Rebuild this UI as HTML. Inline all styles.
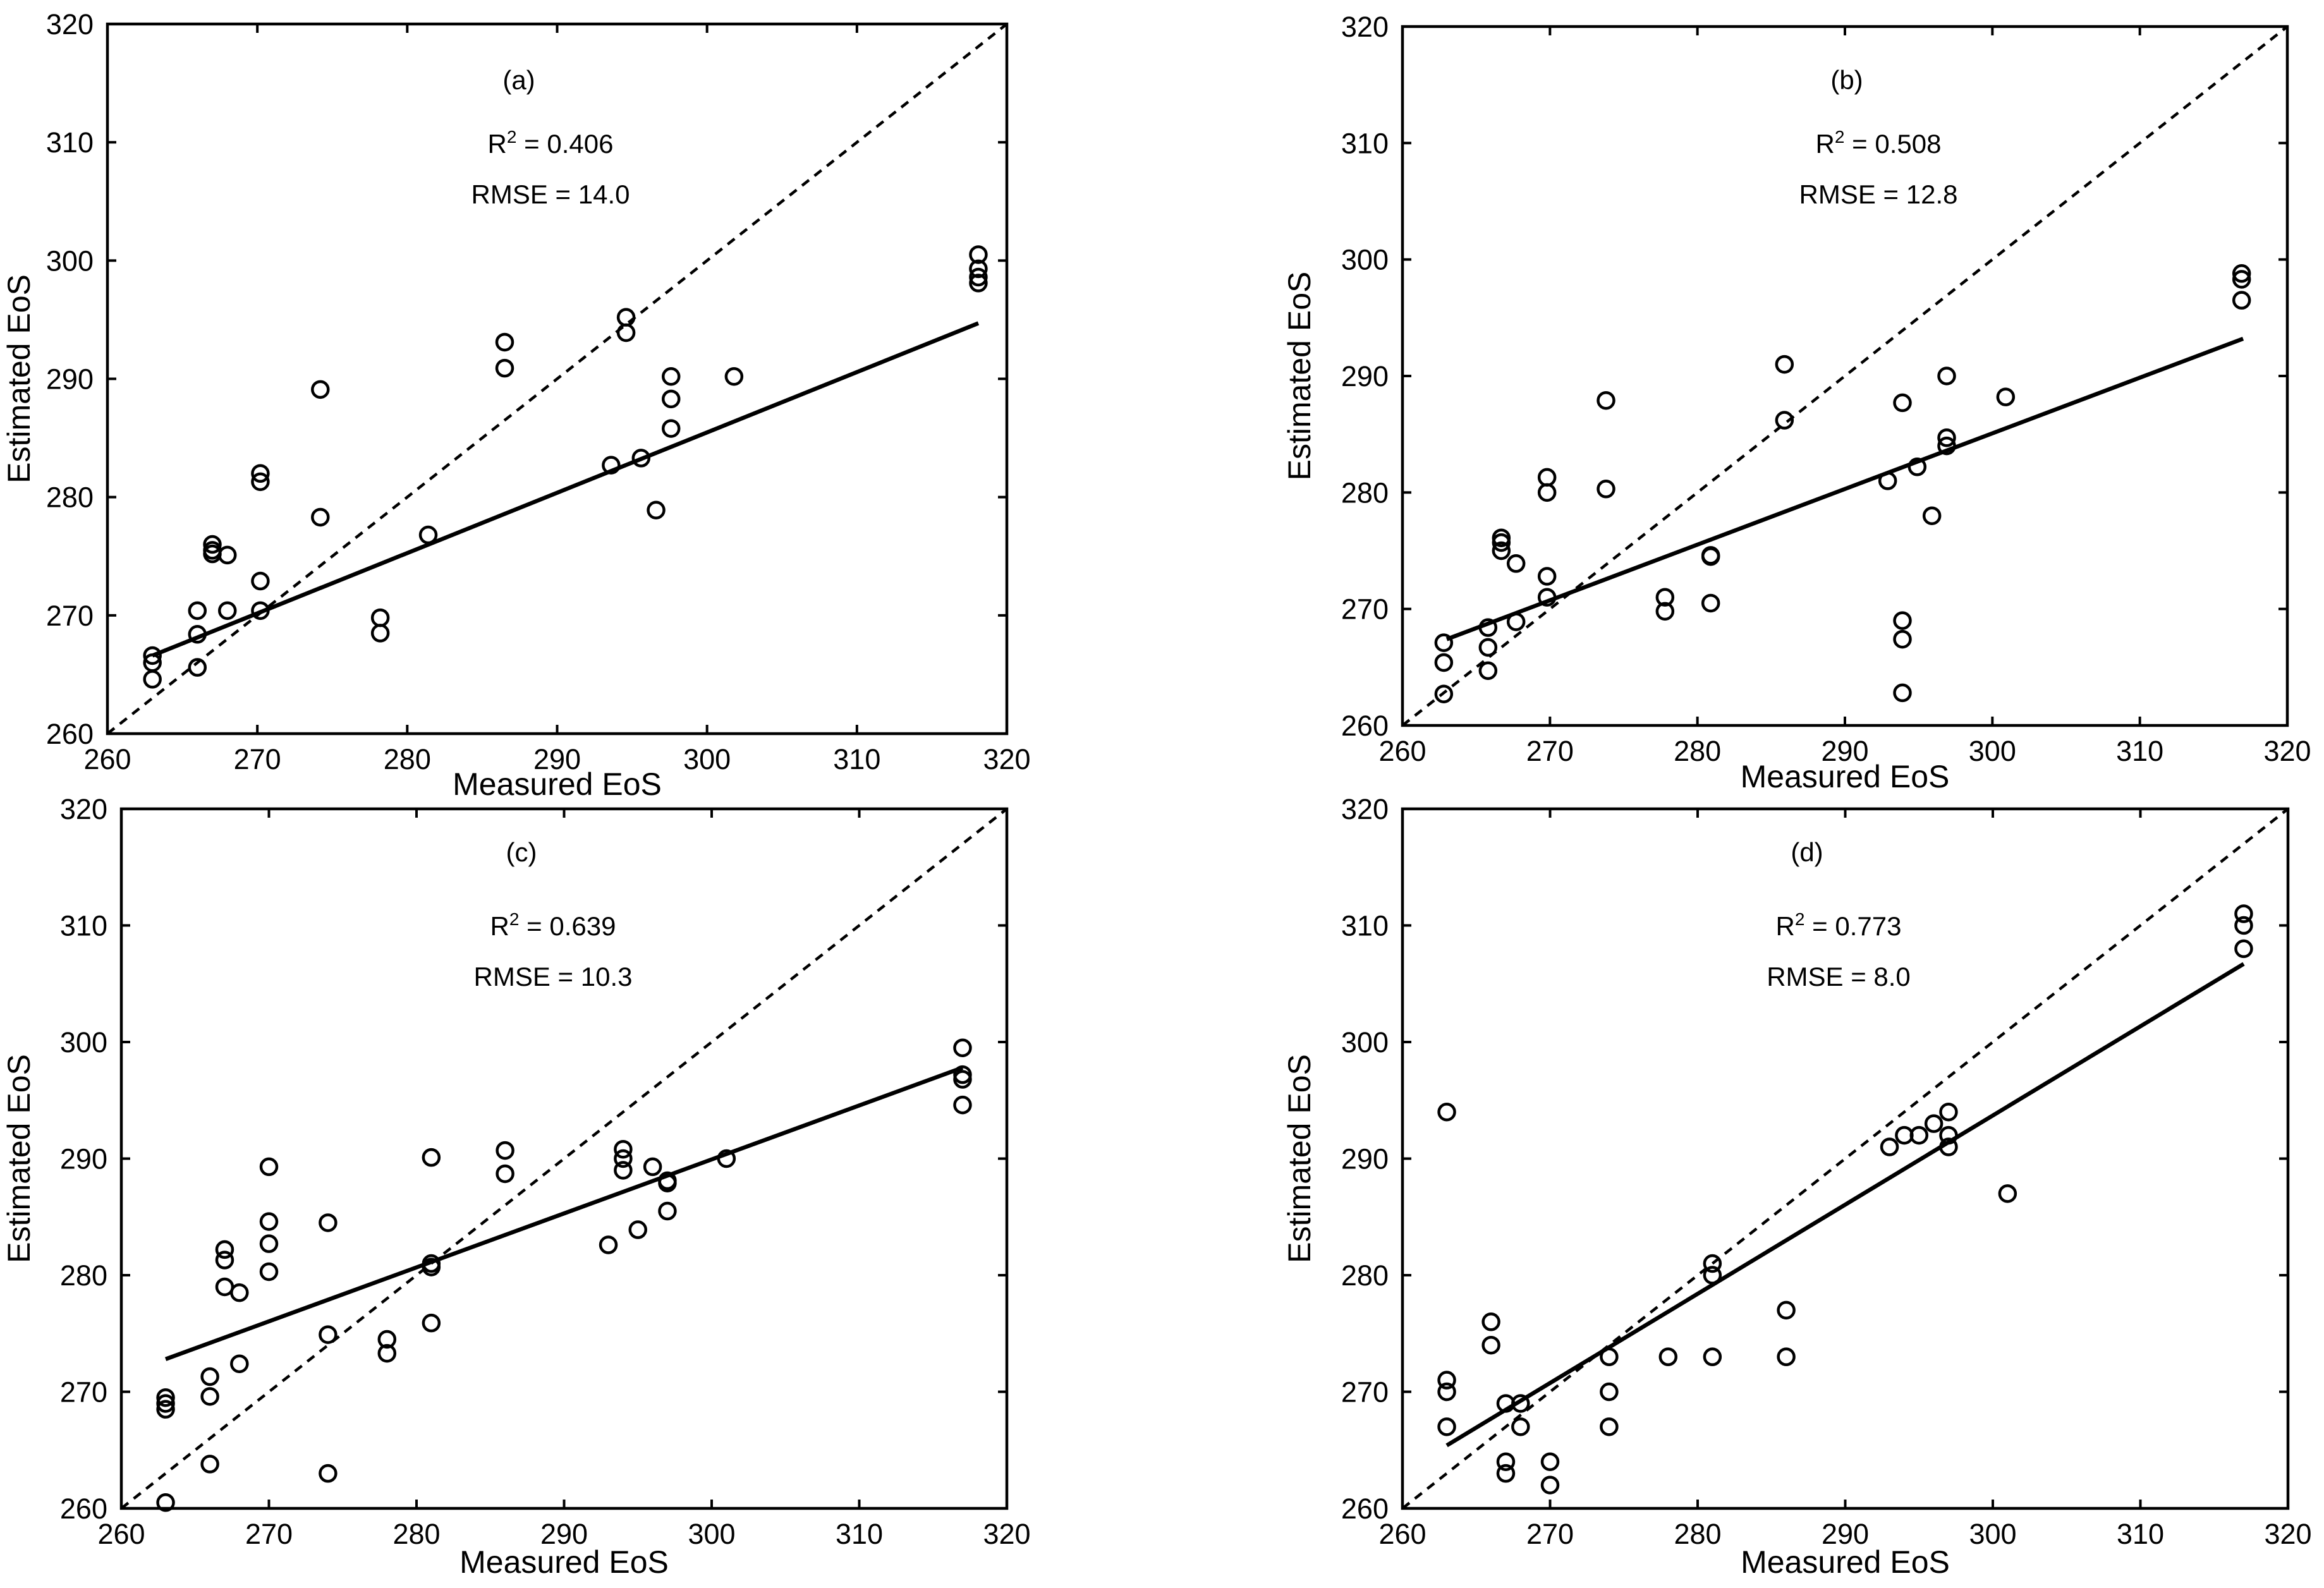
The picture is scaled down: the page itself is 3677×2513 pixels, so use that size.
<!DOCTYPE html>
<html><head><meta charset="utf-8">
<style>
html,body{margin:0;padding:0;background:#fff;}
svg{display:block;font-family:"Liberation Sans",Arial,sans-serif;}
</style></head>
<body>
<svg id="fig" width="3677" height="2513" viewBox="0 0 3677 2513" xmlns="http://www.w3.org/2000/svg"></svg>
<script>
const ticks = [260, 270, 280, 290, 300, 310, 320];
const tickLabels = ["260", "270", "280", "290", "300", "310", "320"];
const panelLabels = ["(a)", "(b)", "(c)", "(d)"];
const r2Values = ["0.406", "0.508", "0.639", "0.773"];
const rmseValues = ["14.0", "12.8", "10.3", "8.0"];

const aX = [263,263,263,266,266,266,267,267,267,268,268,270.2,270.2,270.2,270.2,274.2,274.2,278.2,278.2,281.4,286.5,286.5,293.6,294.6,294.6,295.6,296.6,297.6,297.6,297.6,301.8,318.1,318.1,318.1,318.1];
const aY = [266.6,266,264.6,270.4,268.4,265.6,276,275.5,275.2,275.1,270.4,282,281.3,272.9,270.4,289.1,278.3,269.8,268.5,276.8,293.1,290.9,282.7,295.2,293.9,283.3,278.9,290.2,288.3,285.8,290.2,300.5,299.3,298.6,298.1];
const aFitX = [263, 318.1];
const aFitY = [266.6, 294.7];

const bX = [262.8,262.8,262.8,265.8,265.8,265.8,266.7,266.7,266.7,267.7,267.7,269.8,269.8,269.8,269.8,273.8,273.8,277.8,277.8,280.9,280.9,280.9,285.9,285.9,292.9,293.9,293.9,293.9,293.9,294.9,295.9,296.9,296.9,296.9,300.9,316.9,316.9,316.9];
const bY = [267.1,265.4,262.7,268.4,266.7,264.7,276.1,275.7,275,273.9,268.9,281.3,280,272.8,271,287.9,280.3,271,269.8,274.6,274.5,270.5,291,286.2,281,287.7,269,267.4,262.8,282.2,278,290,284.7,284,288.2,298.8,298.3,296.5];
const bFitX = [263, 317];
const bFitY = [267.4, 293.2];

const cX = [263,263,263,263,266,266,266,267,267,267,268,268,270,270,270,270,274,274,274,278,278,281,281,281,281,286,286,293,294,294,294,295,296,297,297,297,301,317,317,317,317];
const cY = [269.5,269,268.5,260.5,271.3,269.6,263.8,282.2,281.3,279,278.5,272.4,289.3,284.6,282.7,280.3,284.5,274.9,263,274.5,273.3,290.1,281,280.7,275.9,290.7,288.7,282.6,290.8,290,289,283.9,289.3,288.1,287.9,285.5,290,299.5,297.2,296.8,294.6];
const cFitX = [263, 317];
const cFitY = [272.8, 297.8];

const dX = [263,263,263,263,266,266,267,267,267,268,268,270,270,274,274,274,278,281,281,281,286,286,293,294,295,296,297,297,297,301,317,317,317];
const dY = [294,271,270,267,276,274,269,264,263,269,267,264,262,273,270,267,273,281,280,273,277,273,291,292,292,293,294,292,291,287,311,310,308];
const dFitX = [263, 317];
const dFitY = [265.4, 306.7];

const NS = "http://www.w3.org/2000/svg";
const svg = document.getElementById("fig");
function mk(tag, attrs, parent) {
  const e = document.createElementNS(NS, tag);
  for (const k in attrs) e.setAttribute(k, attrs[k]);
  (parent || svg).appendChild(e);
  return e;
}

const panels = [
  {id:"a", L:170, R:1593, T:38, B:1161, xs:aX, ys:aY, fx:aFitX, fy:aFitY, ylx:47, xly:1258, tx:821, ty:[141,242,322]},
  {id:"b", L:2219, R:3619, T:42, B:1148, xs:bX, ys:bY, fx:bFitX, fy:bFitY, ylx:2073, xly:1246, tx:2922, ty:[141,242,322]},
  {id:"c", L:192, R:1593, T:1280, B:2387, xs:cX, ys:cY, fx:cFitX, fy:cFitY, ylx:47, xly:2489, tx:825, ty:[1363,1480,1560]},
  {id:"d", L:2219, R:3620, T:1280, B:2387, xs:dX, ys:dY, fx:dFitX, fy:dFitY, ylx:2073, xly:2489, tx:2859, ty:[1363,1480,1560]}
];

panels.forEach((p, i) => {
  const g = mk("g", {});
  
  
  const sx = v => p.L + (v - 260) / 60 * (p.R - p.L);
  const sy = v => p.B - (v - 260) / 60 * (p.B - p.T);

  const dl = mk("line", {x1:sx(260), y1:sy(260), x2:sx(320), y2:sy(320), stroke:"#000", "stroke-width":4.5, "stroke-dasharray":"14 11"}, g);
  
  

  const box = mk("rect", {x:p.L, y:p.T, width:p.R-p.L, height:p.B-p.T, fill:"none", stroke:"#000", "stroke-width":4.5}, g);
  
  

  ticks.forEach((t, k) => {
    const x = sx(t), y = sy(t);
    if (k > 0 && k < ticks.length - 1) {
      mk("line", {x1:x, y1:p.B, x2:x, y2:p.B-14, stroke:"#000", "stroke-width":4}, g);
      mk("line", {x1:x, y1:p.T, x2:x, y2:p.T+14, stroke:"#000", "stroke-width":4}, g);
      mk("line", {x1:p.L, y1:y, x2:p.L+14, y2:y, stroke:"#000", "stroke-width":4}, g);
      mk("line", {x1:p.R, y1:y, x2:p.R-14, y2:y, stroke:"#000", "stroke-width":4}, g);
    }
    const xl = mk("text", {x:x, y:p.B+56, "font-size":45, "text-anchor":"middle"}, g);
    xl.textContent = tickLabels[k];
    
    
    const yl = mk("text", {x:p.L-22, y:y+16, "font-size":45, "text-anchor":"end"}, g);
    yl.textContent = tickLabels[k];
    
    
  });

  const xt = mk("text", {x:(p.L+p.R)/2, y:p.xly, "font-size":50, "text-anchor":"middle"}, g);
  xt.textContent = "Measured EoS";
  
  
  const yc = (p.T + p.B) / 2;
  const yt = mk("text", {x:p.ylx, y:yc, "font-size":50, "text-anchor":"middle", transform:"rotate(-90 "+p.ylx+" "+yc+")"}, g);
  yt.textContent = "Estimated EoS";
  
  

  const t1 = mk("text", {x:p.tx, y:p.ty[0], "font-size":42, "text-anchor":"middle"}, g);
  t1.textContent = panelLabels[i];
  
  
  const t2 = mk("text", {x:p.tx+50, y:p.ty[1], "font-size":42, "text-anchor":"middle"}, g);
  
  
  const s1 = mk("tspan", {}, t2); s1.textContent = "R";
  const s2 = mk("tspan", {dy:-16, "font-size":28}, t2); s2.textContent = "2";
  const s3 = mk("tspan", {dy:16}, t2); s3.textContent = " = " + r2Values[i];
  const t3 = mk("text", {x:p.tx+50, y:p.ty[2], "font-size":42, "text-anchor":"middle"}, g);
  t3.textContent = "RMSE = " + rmseValues[i];
  
  

  const fl = mk("line", {x1:sx(p.fx[0]), y1:sy(p.fy[0]), x2:sx(p.fx[1]), y2:sy(p.fy[1]), stroke:"#000", "stroke-width":6.5}, g);
  
  

  p.xs.forEach((v, k) => {
    const c = mk("circle", {cx:sx(v), cy:sy(p.ys[k]), r:12.5, fill:"none", stroke:"#000", "stroke-width":4.5}, g);
    
    
  });
});
</script>
</body></html>
